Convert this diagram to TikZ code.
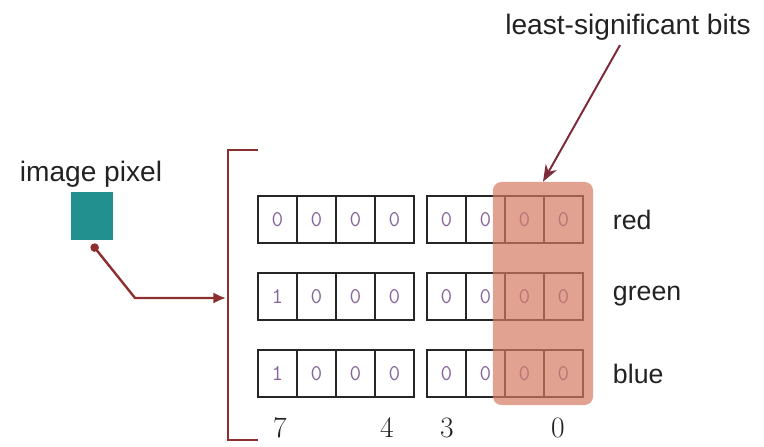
\documentclass[tikz,border=0pt]{standalone}
\usepackage{fontspec}
\usetikzlibrary{positioning, arrows.meta}
\newfontfamily\labelfont{Liberation Sans}
\definecolor{PixelTeal}{HTML}{21908F}
\definecolor{LinkRed}{HTML}{8E2F2F}
\definecolor{PointerRed}{HTML}{7D2A3A}
\definecolor{LsbPink}{HTML}{D47A64}
\definecolor{BitPurple}{HTML}{86659A}
\definecolor{TextGray}{HTML}{222222}

\begin{document}
\begin{tikzpicture}[
        x=0.025cm, y=-0.025cm,
        bitcell/.style={
            rectangle, draw=black!85, line width=1.7pt, minimum width=0.975cm,
            minimum height=1.175cm, inner sep=0pt, text=BitPurple,
            font=\ttfamily\fontsize{16}{16}\selectfont
        },
        chanlabel/.style={anchor=west, text=TextGray, font=\labelfont\fontsize{19}{23}\selectfont},
        bitindex/.style={text=TextGray, font=\fontsize{21}{21}\selectfont},
        link/.style={line width=1.7pt, color=LinkRed},
        pointer/.style={line width=1.4pt, color=PointerRed, -{Stealth[length=12pt, width=9pt]}}
    ]
    \useasboundingbox (0,0) rectangle (764,447);

    % Pixel
    \node (pixeltext) [chanlabel, font=\labelfont\fontsize{20}{24}\selectfont, anchor=center] at (91,174) {image pixel};
    \node (pixel) [rectangle, fill=PixelTeal, minimum width=1.025cm, minimum height=1.2cm] at (92,216) {};

    % Bit cells
    \foreach \x [count=\i] in {277.5,316.5,355.5,394.5,446.5,485.5,524.5,563.5} {
        \node (red-\i) [bitcell] at (\x,219.5) {0};
        \node (green-\i) [bitcell] at (\x,296.5) {\ifnum\i=1 1\else 0\fi};
        \node (blue-\i) [bitcell] at (\x,373.5) {\ifnum\i=1 1\else 0\fi};
    }

    % Least-significant band
    \node (lsbband) [rectangle, rounded corners=6pt, fill=LsbPink, fill opacity=0.7,
        minimum width=2.5cm, minimum height=5.575cm] at (543,293.5) {};

    % Channel labels
    \node (redtext) [chanlabel] at (608,219.5) {red};
    \node (greentext) [chanlabel] at (608,296.5) {green};
    \node (bluetext) [chanlabel] at (608,373.5) {blue};

    % Bit positions
    \node (idx7) [bitindex] at (280,428) {7};
    \node (idx4) [bitindex] at (387,428) {4};
    \node (idx3) [bitindex] at (447,428) {3};
    \node (idx0) [bitindex] at (558,428) {0};

    % Bracket
    \coordinate (bracketin) at (226,298);
    \draw [link] (258,150) -- (228,150) -- (228,440) -- (258,440);

    % Pixel link
    \draw [link, {Circle[length=6pt]}-{Latex[length=9pt, width=8pt]}] ([yshift=-0.1cm]pixel.south) -- (135,298) -- (bracketin);

    % Pointer
    \node (lsbtext) [chanlabel, font=\labelfont\fontsize{20}{24}\selectfont, anchor=center] at (628,27) {least-significant bits};
    \draw [pointer] ([xshift=-0.2cm]lsbtext.south) -- (lsbband.north);

\end{tikzpicture}
\end{document}
